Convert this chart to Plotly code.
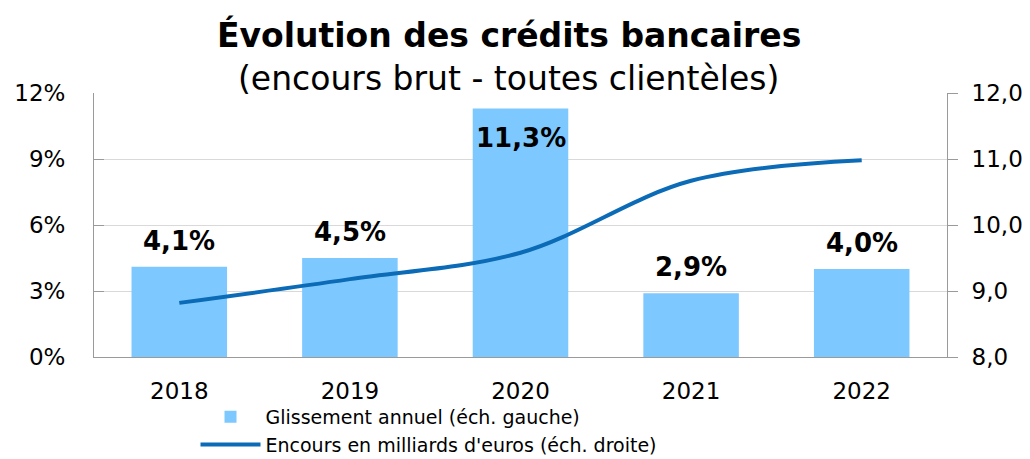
import plotly.graph_objects as go

years = ["2018", "2019", "2020", "2021", "2022"]
glissement = [4.1, 4.5, 11.3, 2.9, 4.0]
encours = [8.82, 9.18, 9.58, 10.67, 10.98]
labels = ["4,1%", "4,5%", "11,3%", "2,9%", "4,0%"]
left_ticks = [0, 3, 6, 9, 12]
left_tick_text = ["0%", "3%", "6%", "9%", "12%"]
right_ticks = [8, 9, 10, 11, 12]
right_tick_text = ["8,0", "9,0", "10,0", "11,0", "12,0"]

FONT = "DejaVu Sans, Verdana, sans-serif"
BAR = "#7DC9FF"
LINE = "#0B6BB6"

fig = go.Figure()
fig.add_trace(go.Bar(x=years, y=glissement, name="Glissement annuel (éch. gauche)",
                     marker=dict(color=BAR, line=dict(width=0)), yaxis="y"))
fig.add_trace(go.Scatter(x=years, y=encours, name="Encours en milliards d'euros (éch. droite)",
                         mode="lines", line=dict(color=LINE, width=4, shape="spline"), yaxis="y2"))

anns = []
for i, (v, t) in enumerate(zip(glissement, labels)):
    inside = v > 10
    anns.append(dict(x=i, y=v, xref="x", yref="y", yanchor="middle", text="<b>" + t + "</b>",
                     showarrow=False, yshift=-30 if inside else 26,
                     font=dict(size=26, color="black", family=FONT)))
anns.append(dict(x=0.4865, y=1.2197, xref="paper", yref="paper", yanchor="middle",
                 text="<b>Évolution des crédits bancaires</b>", showarrow=False,
                 font=dict(size=33, color="black", family=FONT)))
anns.append(dict(x=0.4865, y=1.0568, xref="paper", yref="paper", yanchor="middle",
                 text="(encours brut - toutes clientèles)", showarrow=False,
                 font=dict(size=33, color="black", family=FONT)))

# page body has an 8px margin, so the figure is sized to fit the 1030x459 window
fig.update_layout(
    width=1022, height=451,
    margin=dict(l=86, r=83, t=85, b=102, autoexpand=False),
    paper_bgcolor="white", plot_bgcolor="white",
    font=dict(family=FONT, size=23, color="black"),
    bargap=0.44,
    showlegend=True,
    legend=dict(x=0.119, y=-0.155, xanchor="left", yanchor="top", orientation="v",
                font=dict(size=19), tracegroupgap=0, itemwidth=60, bgcolor="rgba(0,0,0,0)"),
    xaxis=dict(type="category", range=[-0.5, 4.5], autorange=False, showline=True,
               linecolor="#9a9a9a", linewidth=1, ticks="", tickfont=dict(size=23),
               ticklabelstandoff=13),
    yaxis=dict(range=[0, 12], autorange=False, tickvals=left_ticks, ticktext=left_tick_text,
               showline=True, linecolor="#9a9a9a", gridcolor="#d9d9d9", ticks="inside", ticklen=10,
               tickcolor="#9a9a9a", zeroline=False, tickfont=dict(size=23), ticklabelstandoff=23),
    yaxis2=dict(range=[8, 12], autorange=False, tickvals=right_ticks, ticktext=right_tick_text,
                overlaying="y", side="right", showline=True, linecolor="#9a9a9a", showgrid=False,
                ticks="outside", ticklen=10, tickcolor="#9a9a9a", zeroline=False,
                tickfont=dict(size=23), ticklabelstandoff=9),
    annotations=anns,
)
fig.write_html("out.html")
